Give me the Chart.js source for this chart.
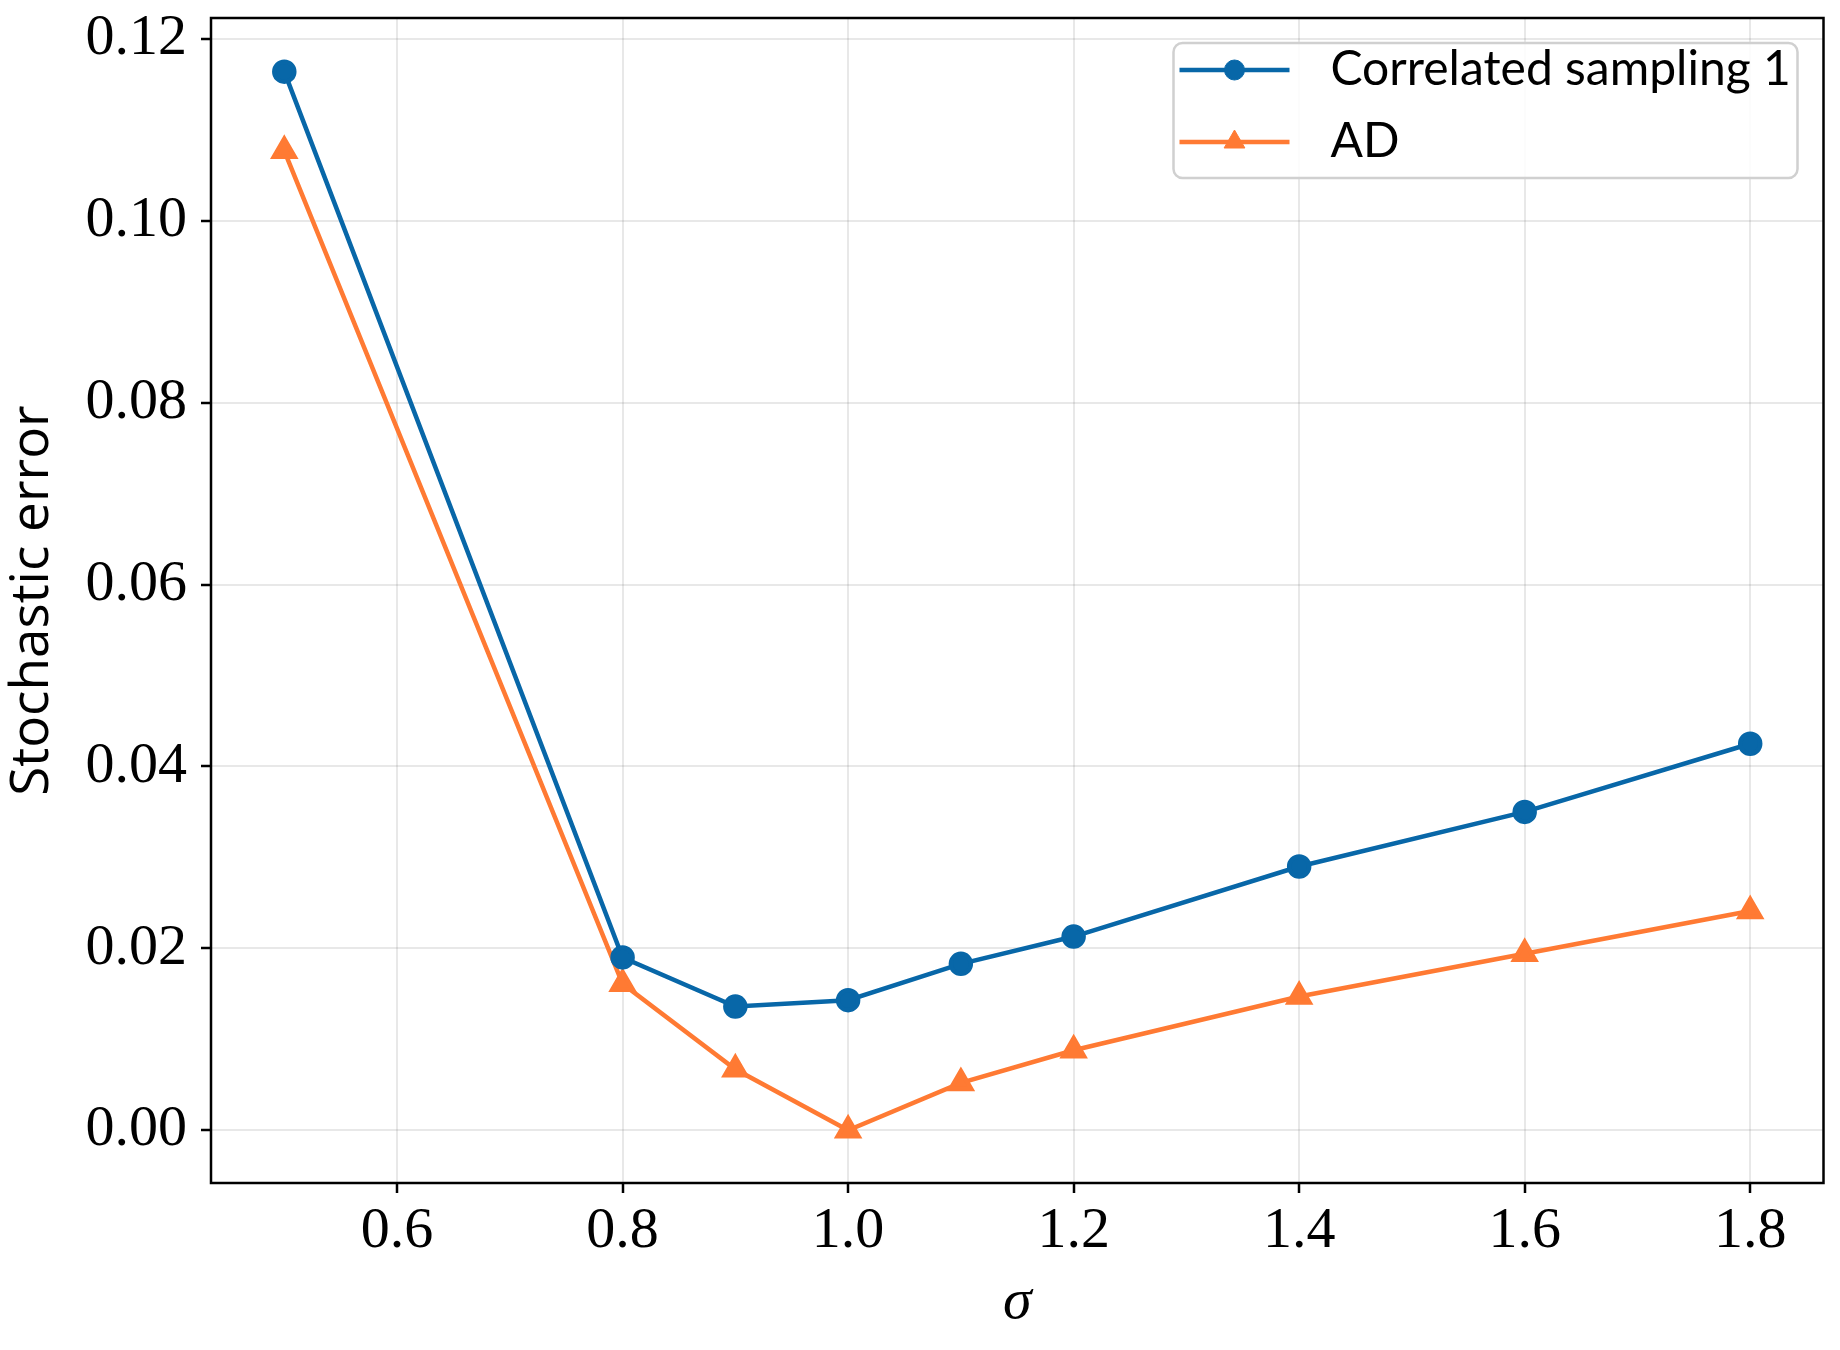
<!DOCTYPE html>
<html>
<head>
<meta charset="utf-8">
<script src="https://cdn.jsdelivr.net/npm/chart.js@4.4.1/dist/chart.umd.min.js"></script>
<style>
    html, body { margin: 0; padding: 0; background: #fff; }
    #wrap { width: 1840px; height: 1350px; }
</style>
</head>
<body>
<div id="wrap"><canvas id="graph" width="1840" height="1350"></canvas></div>
<script>
// values
const sigma = [0.5, 0.8, 0.9, 1.0, 1.1, 1.2, 1.4, 1.6, 1.8];
const correlated = [0.1164, 0.0190, 0.0136, 0.0143, 0.0183, 0.0213, 0.0290, 0.0350, 0.0425];
const ad = [0.1077, 0.0161, 0.0067, 0.0000, 0.0052, 0.0088, 0.0147, 0.0194, 0.0241];

const xTicks = [0.6, 0.8, 1.0, 1.2, 1.4, 1.6, 1.8];
const yTicks = [0.00, 0.02, 0.04, 0.06, 0.08, 0.10, 0.12];

const blue = '#0867a8';
const orange = '#ff7a33';

const serif = "'Liberation Serif', 'DejaVu Serif', serif";
const sans = "Lato, 'Noto Sans', sans-serif";

function points(ys) {
    return sigma.map(function (x, i) {
        return {x: x, y: ys[i]};
    });
}

// box round the plot area plus a legend in the upper right corner
const framePlugin = {
    id: 'frame',
    afterDraw(chart) {
        const ctx = chart.ctx;
        const a = chart.chartArea;
        ctx.save();
        ctx.strokeStyle = '#000';
        ctx.lineWidth = 2.5;
        ctx.strokeRect(a.left, a.top, a.right - a.left, a.bottom - a.top);

        // legend
        const w = 624, h = 135;
        const x0 = a.right - 26 - w, y0 = a.top + 25;
        ctx.beginPath();
        ctx.roundRect(x0, y0, w, h, 9);
        ctx.fillStyle = 'rgba(255,255,255,0.85)';
        ctx.fill();
        ctx.strokeStyle = '#d0d0d0';
        ctx.lineWidth = 2.5;
        ctx.stroke();

        const rows = [27, 99];
        chart.data.datasets.forEach(function (ds, i) {
            const y = y0 + rows[i];
            ctx.strokeStyle = ds.borderColor;
            ctx.lineWidth = ds.borderWidth;
            ctx.beginPath();
            ctx.moveTo(x0 + 6, y);
            ctx.lineTo(x0 + 116, y);
            ctx.stroke();
            ctx.fillStyle = ds.pointBackgroundColor;
            ctx.strokeStyle = ds.pointBorderColor;
            ctx.lineWidth = 1;
            Chart.helpers.drawPoint(ctx, {pointStyle: ds.pointStyle, radius: ds.pointRadius, rotation: 0, borderWidth: 1}, x0 + 61, y);
            ctx.fillStyle = '#000';
            ctx.font = '48px ' + sans;
            ctx.textBaseline = 'middle';
            ctx.textAlign = 'left';
            ctx.fillText(ds.label, x0 + 157, y);
        });
        ctx.restore();
    }
};

const graphCtx = document.getElementById('graph').getContext('2d');

new Chart(graphCtx, {
    type: 'line',
    data: {
        datasets: [
            {
                label: 'Correlated sampling 1',
                data: points(correlated),
                borderColor: blue,
                backgroundColor: blue,
                pointBackgroundColor: blue,
                pointBorderColor: blue,
                borderWidth: 4.5,
                pointStyle: 'circle',
                pointRadius: 10,
                tension: 0,
                fill: false
            },
            {
                label: 'AD',
                data: points(ad),
                borderColor: orange,
                backgroundColor: orange,
                pointBackgroundColor: orange,
                pointBorderColor: orange,
                borderWidth: 4.5,
                pointStyle: 'triangle',
                pointRadius: 12,
                tension: 0,
                fill: false
            }
        ]
    },
    options: {
        responsive: false,
        animation: false,
        devicePixelRatio: 1,
        layout: {padding: {top: 18, right: 12, left: 0, bottom: 0}},
        plugins: {
            legend: {display: false},
            tooltip: {enabled: false}
        },
        scales: {
            x: {
                type: 'linear',
                min: 0.435,
                max: 1.865,
                afterBuildTicks: function (s) {
                    s.ticks = xTicks.map(function (v) { return {value: v}; });
                },
                afterFit: function (s) {
                    s.height = 167;
                    s.paddingLeft = 0;
                    s.paddingRight = 0;
                },
                border: {display: false},
                grid: {
                    color: 'rgba(0,0,0,0.09)',
                    lineWidth: 2,
                    tickColor: '#000',
                    tickWidth: 2.5,
                    tickLength: 10
                },
                ticks: {
                    color: '#000',
                    font: {family: serif, size: 58},
                    padding: 4,
                    maxRotation: 0,
                    callback: function (v) { return v.toFixed(1); }
                },
                title: {
                    display: true,
                    text: 'σ',
                    color: '#000',
                    font: {family: serif, size: 58, style: 'italic'},
                    padding: {top: 0, bottom: 12}
                }
            },
            y: {
                type: 'linear',
                min: -0.0058,
                max: 0.1223,
                afterBuildTicks: function (s) {
                    s.ticks = yTicks.map(function (v) { return {value: v}; });
                },
                afterFit: function (s) {
                    s.width = 211;
                    s.paddingTop = 0;
                    s.paddingBottom = 0;
                },
                border: {display: false},
                grid: {
                    color: 'rgba(0,0,0,0.09)',
                    lineWidth: 2,
                    tickColor: '#000',
                    tickWidth: 2.5,
                    tickLength: 10
                },
                ticks: {
                    color: '#000',
                    font: {family: serif, size: 58},
                    padding: 14,
                    callback: function (v) { return v.toFixed(2); }
                },
                title: {
                    display: true,
                    text: 'Stochastic error',
                    color: '#000',
                    font: {family: "'Open Sans', Lato, sans-serif", size: 53},
                    padding: {top: 1, bottom: 0}
                }
            }
        }
    },
    plugins: [framePlugin]
});
</script>
</body>
</html>
